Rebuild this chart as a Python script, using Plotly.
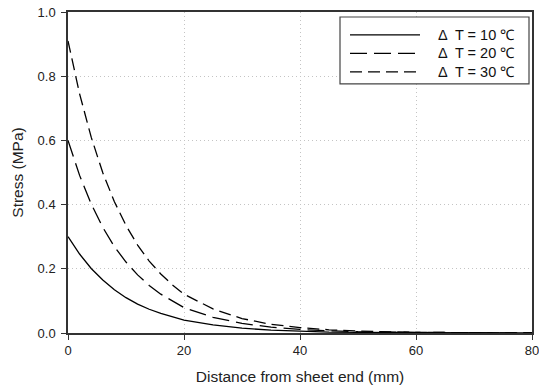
import plotly.graph_objects as go

# Data
distance_mm = [0, 2, 4, 6, 8, 10, 12, 14, 16, 18, 20, 25, 30, 35, 40, 45, 50, 60, 70, 80]
stress_dT10 = [0.300, 0.246, 0.201, 0.165, 0.135, 0.110, 0.090, 0.074, 0.061, 0.050, 0.040,
               0.025, 0.015, 0.009, 0.005, 0.003, 0.002, 0.001, 0.000, 0.000]
stress_dT20 = [0.600, 0.491, 0.402, 0.329, 0.269, 0.221, 0.181, 0.148, 0.121, 0.099, 0.079,
               0.049, 0.030, 0.018, 0.011, 0.007, 0.004, 0.002, 0.001, 0.000]
stress_dT30 = [0.910, 0.745, 0.610, 0.499, 0.409, 0.335, 0.274, 0.224, 0.184, 0.150, 0.121,
               0.075, 0.045, 0.027, 0.017, 0.010, 0.006, 0.002, 0.001, 0.000]
series_names = ["Δ  T = 10 ℃", "Δ  T = 20 ℃", "Δ  T = 30 ℃"]
x_ticks = [0, 20, 40, 60, 80]
y_ticks = [0.0, 0.2, 0.4, 0.6, 0.8, 1.0]

FONT = "Arial"
OFF = 8  # page body margin
W, H = 547 - OFF, 389 - OFF
# plot area in window pixels: x 68..532, y 12..333.5
ML, MT = 68 - OFF, 12 - OFF
MR = W - (532 - OFF)
MB = H - (333.5 - OFF)
PW, PH = W - ML - MR, H - MT - MB

def px(x):  # window px -> paper
    return (x - OFF - ML) / PW

def py(y):
    return (H - MB - (y - OFF)) / PH

dashes = ["solid", "17px,7px", "12px,6px"]
series = [stress_dT10, stress_dT20, stress_dT30]

fig = go.Figure()
for name, ys, d in zip(series_names, series, dashes):
    fig.add_trace(go.Scatter(x=distance_mm, y=ys, mode="lines", name=name,
                             line=dict(color="black", width=1.3, dash=d),
                             showlegend=False))

axis_common = dict(
    showline=True, linecolor="#333333", linewidth=1.5, mirror=True,
    ticks="outside", ticklen=5, tickcolor="#333333", tickwidth=1.2,
    showgrid=True, gridcolor="#c4c4c4", griddash="1px,3px", gridwidth=1,
    zeroline=False, automargin=False, ticklabeloverflow="allow",
    tickfont=dict(family=FONT, size=13, color="#222"),
)

fig.update_xaxes(range=[0, 80], tickvals=x_ticks, ticktext=[str(v) for v in x_ticks],
                 title=dict(text="Distance from sheet end (mm)", standoff=14,
                            font=dict(family=FONT, size=15.5, color="#222")),
                 **axis_common)
fig.update_yaxes(range=[0, 1.0], tickvals=y_ticks, ticktext=[f"{v:.1f}" for v in y_ticks],
                 ticklabelstandoff=3,
                 title=dict(text="Stress (MPa)", standoff=10,
                            font=dict(family=FONT, size=15.5, color="#222")),
                 **axis_common)

# Manual legend box
shapes = [dict(type="rect", xref="paper", yref="paper",
               x0=px(340), x1=px(529), y0=py(84), y1=py(17),
               line=dict(color="#444", width=1.2), fillcolor="white", layer="above")]
annotations = []
rows_y = [35, 53.5, 72]
for name, d, ry in zip(series_names, dashes, rows_y):
    shapes.append(dict(type="line", xref="paper", yref="paper",
                       x0=px(350), x1=px(420), y0=py(ry), y1=py(ry),
                       line=dict(color="black", width=1.3, dash=d), layer="above"))
    annotations.append(dict(xref="paper", yref="paper", x=px(436), y=py(ry),
                            text=name, showarrow=False, xanchor="left", yanchor="middle",
                            font=dict(family=FONT, size=14.5, color="#111")))

fig.update_layout(
    width=W, height=H,
    margin=dict(l=ML, r=MR, t=MT, b=MB),
    paper_bgcolor="white", plot_bgcolor="white",
    shapes=shapes, annotations=annotations,
    showlegend=False,
)

fig.write_html("out.html")
